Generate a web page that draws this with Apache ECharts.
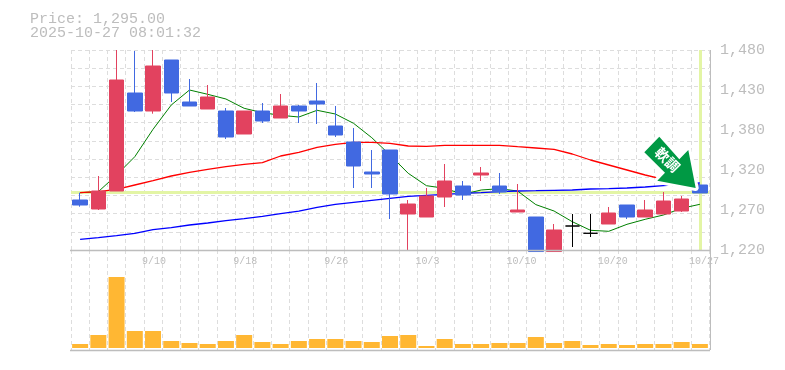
<!DOCTYPE html>
<html><head><meta charset="utf-8">
<style>html,body{margin:0;padding:0;background:#fff}#c{width:785px;height:370px}</style>
<script src="https://cdn.jsdelivr.net/npm/echarts@6/dist/echarts.min.js"></script>
</head><body><div id="c"></div>
<script>
const dates = ['','','','','9/10','','','','','9/18','','','','','9/26','','','','','10/3','','','','','10/10','','','','','10/20','','','','','10/27'];
const priceTickLabels = ['1,220','1,270','1,320','1,380','1,430','1,480'];
const titleLines = ['Price: 1,295.00','2025-10-27 08:01:32'];
const arrowText = '軟調';
// open, close, low, high
const opens  = [1285,1273.3,1296.7,1424.1,1400.7,1467,1412.4,1403.3,1400.7,1370.8,1400.7,1391.6,1407.2,1413.7,1381.2,1360.4,1321.4,1350,1266.8,1262.9,1288.9,1303.2,1317.5,1303.2,1269.4,1262.9,1218,1251.2,1241.7,1253.8,1278.5,1262.9,1266.8,1270.7,1304.5];
const closes = [1278.5,1296.7,1441,1400.7,1459.2,1424.1,1407.2,1418.9,1366.9,1400.7,1387.7,1407.2,1400.7,1409.8,1369.5,1329.2,1318.8,1292.8,1279.8,1290.2,1309.7,1291.5,1320.1,1295.4,1272,1218,1246,1251.2,1241.7,1268.1,1262.9,1272,1283.7,1286.3,1294.1];
const lows   = [1276.3,1272,1296.7,1399.4,1397.2,1412.4,1407.2,1403.3,1364.3,1370.8,1385.1,1391.6,1385.1,1383.8,1366.9,1300.6,1300.6,1260.3,1220,1262.9,1275.9,1285,1309.7,1292.8,1269.4,1218,1218,1223.9,1236.9,1253.8,1260.3,1262.9,1266.8,1269.4,1294];
const highs  = [1294.5,1316.2,1480,1478.7,1480,1467,1442.3,1434.5,1404.6,1400.7,1411.1,1422.8,1408.5,1437.1,1407.2,1378.6,1350,1350,1285,1300.6,1331.8,1309.7,1327.9,1320.1,1305.8,1262.9,1253.8,1266.8,1266.8,1275.9,1278.5,1285,1295.4,1290.2,1307];
const ma5  = [1294.5,1295.8,1317.5,1341.3,1376.9,1408.5,1428,1422.4,1416.3,1404.2,1398.5,1395.1,1392.9,1401.6,1396.8,1384.7,1366,1343.5,1319.7,1303.6,1300.2,1292.4,1298,1299.7,1296.7,1279,1270.7,1256.8,1245.6,1244.3,1253.4,1259.9,1265.5,1274.2,1279.4];
const ma25 = [1294.5,1295.8,1298.9,1304.5,1310.1,1316.2,1321,1324.9,1328.3,1331.4,1333.5,1342.2,1347,1353.5,1357.4,1360,1360,1358.7,1355.2,1354.8,1356.1,1356.1,1356.1,1356.1,1354.3,1352.6,1350.9,1344.8,1337,1330.5,1324,1317.5,1311.9,1307.5,1304.5];
const ma75 = [1233.9,1236,1238.6,1241.7,1246.4,1249,1252.5,1255.1,1258.1,1260.8,1263.8,1267.2,1270.5,1275.5,1279.4,1282,1284.6,1287.2,1289.8,1291.1,1292.4,1293.7,1294.5,1295.8,1296.7,1297.1,1297.6,1298,1299.3,1299.7,1300.6,1301.9,1303.6,1305.4,1307.1];
const volumes = [4,13,71,17,17,7,5,4,7,13,6,4,7,9,9,7,6,12,13,2,9,4,4,5,5,11,5,7,3,4,3,4,4,6,4];
const currentPrice = 1295;

const UP='#E2425F', DOWN='#4169E1', GREY='#BDBDBD', GRID='#DDDDDD', HL='#E3F5A5';
const FONT='"Liberation Mono", monospace';
const chart = echarts.init(document.getElementById('c'),null,{renderer:'canvas'});
const L=71,W=638;
const catBase={type:'category',data:dates,boundaryGap:true,axisTick:{show:false},axisLabel:{show:false},axisLine:{show:false},splitLine:{show:false}};
const vSplit={show:true,interval:0,lineStyle:{color:GRID,type:[4,3],width:1}};
chart.setOption({
  animation:false,
  backgroundColor:'#fff',
  textStyle:{fontFamily:FONT},
  grid:[
    {left:L,width:W,top:50,height:200},
    {left:L,width:W,top:250,height:100},
    {left:L-11,width:W,top:250,height:1}
  ],
  xAxis:[
    Object.assign({},catBase,{gridIndex:0,splitLine:vSplit}),
    Object.assign({},catBase,{gridIndex:1,splitLine:vSplit}),
    Object.assign({},catBase,{gridIndex:2,axisLabel:{show:true,interval:0,align:'left',color:GREY,fontSize:10,fontFamily:FONT,margin:5}})
  ],
  yAxis:[
    {gridIndex:0,type:'value',min:1220,max:1480,show:false,splitLine:{show:false}},
    {gridIndex:0,type:'value',min:0,max:11,interval:1,position:'left',axisLabel:{show:false},axisLine:{show:false},axisTick:{show:false},splitLine:{show:true,lineStyle:{color:GRID,type:[4,3],width:1}}},
    {gridIndex:0,type:'value',min:0,max:5,interval:1,position:'right',axisLine:{show:false},axisTick:{show:false},splitLine:{show:false},
      axisLabel:{show:true,margin:11,color:GREY,fontSize:15,fontFamily:FONT,padding:[14,0,0,0],formatter:(v)=>priceTickLabels[v]}},
    {gridIndex:1,type:'value',min:-2,max:98,show:false,splitLine:{show:false}},
    {gridIndex:2,type:'value',min:0,max:1,show:false,splitLine:{show:false}}
  ],
  series:[
    {type:'candlestick',name:'price',xAxisIndex:0,yAxisIndex:0,z:3,barWidth:15,clip:false,
      data:opens.map((o,i)=>[o,closes[i],lows[i],highs[i]]),
      itemStyle:{color:UP,color0:DOWN,borderColor:UP,borderColor0:DOWN,borderColorDoji:'#000',borderWidth:1},
      markLine:{silent:true,symbol:'none',z:1,label:{show:false},animation:false,
        lineStyle:{color:HL,width:3,type:'solid'},
        data:[{yAxis:currentPrice},{xAxis:dates.length-1}]}},
    {type:'line',name:'ma5',data:ma5,xAxisIndex:0,yAxisIndex:0,z:2,showSymbol:false,lineStyle:{color:'#008000',width:1}},
    {type:'line',name:'ma25',data:ma25,xAxisIndex:0,yAxisIndex:0,z:2,showSymbol:false,lineStyle:{color:'#FF0000',width:1.3}},
    {type:'line',name:'ma75',data:ma75,xAxisIndex:0,yAxisIndex:0,z:2,showSymbol:false,lineStyle:{color:'#0000FF',width:1.3}},
    {type:'bar',name:'volume',data:volumes,xAxisIndex:1,yAxisIndex:3,barWidth:16,itemStyle:{color:'#FFB733'}}
  ],
  graphic:[
    {type:'line',z:5,silent:true,shape:{x1:70,y1:250.5,x2:710,y2:250.5},style:{stroke:GREY,lineWidth:1.5}},
    {type:'line',z:5,silent:true,shape:{x1:70,y1:350.5,x2:710,y2:350.5},style:{stroke:GREY,lineWidth:1.5}},
    {type:'line',z:5,silent:true,shape:{x1:710.5,y1:50,x2:710.5,y2:350},style:{stroke:GREY,lineWidth:1}},
    {type:'text',z:6,silent:true,left:30,top:12,style:{text:titleLines[0],fill:GREY,font:'15px '+FONT}},
    {type:'text',z:6,silent:true,left:30,top:26,style:{text:titleLines[1],fill:GREY,font:'15px '+FONT}},
    {type:'polygon',z:7,silent:true,shape:{points:[[659.3,136.7],[644.3,152.3],[665,172.7],[657.3,180.7],[695.7,188],[688.3,150],[679.3,159.3]]},
      style:{fill:'#009944',stroke:'#fff',lineWidth:6,lineJoin:'round'}},
    {type:'polygon',z:8,silent:true,shape:{points:[[659.3,136.7],[644.3,152.3],[665,172.7],[657.3,180.7],[695.7,188],[688.3,150],[679.3,159.3]]},
      style:{fill:'#009944'}},
    {type:'text',z:9,silent:true,x:667.5,y:159.7,rotation:-Math.PI/4,
      style:{text:arrowText,fill:'#fff',font:'bold 14px "Noto Sans CJK JP"',align:'center',verticalAlign:'middle'}}
  ]
});
</script></body></html>
